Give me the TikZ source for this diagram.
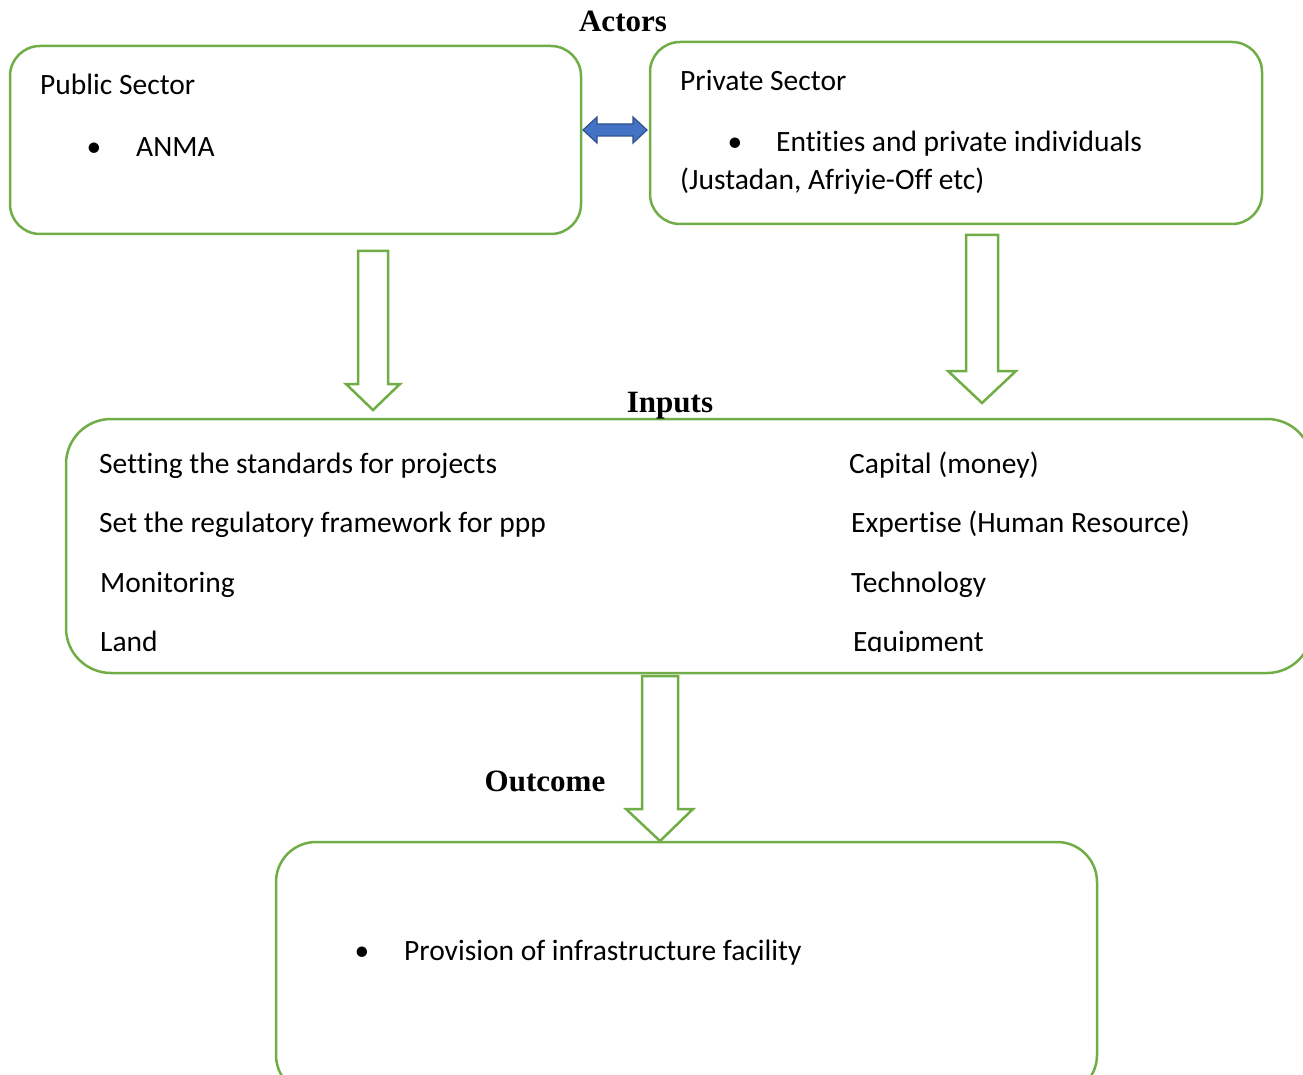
\documentclass[tikz,border=0pt]{standalone}
\usepackage{fontspec}
\setmainfont{Carlito}[Ligatures=NoCommon]
\newfontfamily\titlefont{Liberation Serif}
\definecolor{boxgreen}{HTML}{70AD47}
\definecolor{arrblue}{HTML}{4472C4}
\definecolor{arrblueline}{HTML}{2F528F}
\begin{document}
\begin{tikzpicture}[x=1pt,y=-1pt,
  box/.style={draw=boxgreen, line width=2.5pt, rectangle, inner sep=0pt},
  txt/.style={anchor=base west, inner sep=0pt, font=\fontsize{29.5}{34}\selectfont},
  bul/.style={anchor=base, inner sep=0pt, font=\fontsize{29.5}{34}\selectfont},
  ttl/.style={anchor=base, inner sep=0pt, font=\titlefont\bfseries\fontsize{31}{36}\selectfont},
  blockarrow/.style={draw=boxgreen, line width=2.5pt, fill=white, line join=miter}]
\useasboundingbox (0,0) rectangle (1303,1075);
\clip (0,0) rectangle (1303,1075);
% boxes
\node[box, rounded corners=30pt, minimum width=571pt, minimum height=188pt] (pub) at (295.5,140) {};
\node[box, rounded corners=30pt, minimum width=612pt, minimum height=182pt] (priv) at (956,133) {};
\node[box, rounded corners=45pt, minimum width=1246pt, minimum height=254pt] (inp) at (689,546) {};
\node[box, rounded corners=40pt, minimum width=821pt, minimum height=253pt] (out) at (686.5,968.5) {};
% titles
\node[ttl] (tact) at (623,32) {Actors};
\node[ttl] (tinp) at (670,412) {Inputs};
\node[ttl] (tout) at (545,791) {Outcome};
% public sector text
\node[txt] (pubh) at (40,95) {Public Sector};
\node[bul] (pubb) at (94,157) {•};
\node[txt] (anma) at (136,157) {ANMA};
% private sector text
\node[txt] (privh) at (680,91) {Private Sector};
\node[bul] (privb) at (735,152) {•};
\node[txt] (ent) at (776,152) {Entities and private individuals};
\node[txt] (just) at (680,190) {(Justadan, Afriyie-Off etc)};
% inputs text
\node[txt] (i1) at (99,473) {Setting the standards for projects};
\node[txt] (i2) at (99,532) {Set the regulatory framework for ppp};
\node[txt] (i3) at (100,592) {Monitoring};
\node[txt] (i4) at (100,651) {Land};
\node[txt] (j1) at (849,473) {Capital (money)};
\node[txt] (j2) at (851,532) {Expertise (Human Resource)};
\node[txt] (j3) at (851,592) {Technology};
\begin{scope}
\clip (840,620) rectangle (1100,651);
\node[txt] (j4) at (853,651) {Equipment};
\end{scope}
% outcome text
\node[bul] (outb) at (362,960) {•};
\node[txt] (prov) at (404,960) {Provision of infrastructure facility};
% double arrow between sectors
\path[fill=arrblue, draw=arrblueline, line width=1.2pt, line join=miter]
  (583,130) -- (597,117) -- (597,124) -- (633,124) -- (633,117) -- (647,130)
  -- (633,143) -- (633,136) -- (597,136) -- (597,143) -- cycle;
% block arrows
\draw[blockarrow] (358,251) -- (388,251) -- (388,384) -- (400,384) -- (373,410)
  -- (346,384) -- (358,384) -- cycle;
\draw[blockarrow] (966,235) -- (998,235) -- (998,371) -- (1016,371) -- (982,403)
  -- (948,371) -- (966,371) -- cycle;
\draw[blockarrow] (642,676) -- (678,676) -- (678,809) -- (693,809) -- (660,841)
  -- (626,809) -- (642,809) -- cycle;
\end{tikzpicture}
\end{document}
